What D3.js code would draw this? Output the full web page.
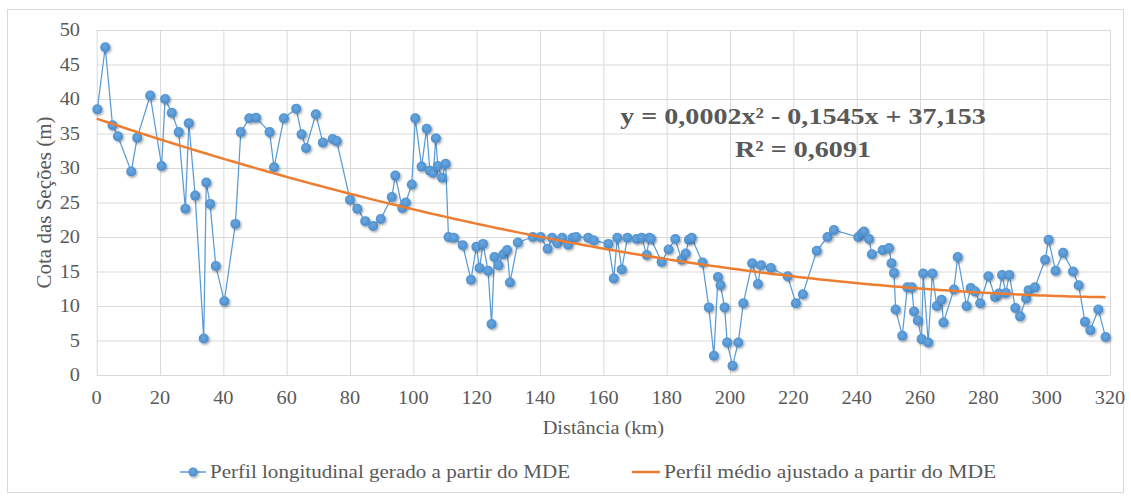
<!DOCTYPE html>
<html lang="pt">
<head>
<meta charset="utf-8">
<script src="https://cdn.jsdelivr.net/npm/d3@7"></script>
<style>
  html, body { margin: 0; padding: 0; background: #ffffff; }
  svg { display: block; }
</style>
</head>
<body>
<svg id="chart" width="1131" height="500"></svg>
<script>
// Longitudinal profile: distance along the river (km) and section elevation (m)
const distances = [
  0.2, 2.7, 5.0, 6.7, 10.9, 12.8, 16.9, 20.5, 21.6, 23.7,
  25.9, 28.0, 29.1, 31.1, 33.8, 34.6, 35.8, 37.6, 40.3, 43.8,
  45.5, 48.2, 50.3, 54.6, 56.0, 59.1, 63.0, 64.7, 66.1, 69.2,
  71.4, 74.5, 75.8, 80.0, 82.3, 84.8, 87.3, 89.7, 93.2, 94.3,
  96.5, 97.6, 99.5, 100.6, 102.6, 104.2, 105.2, 106.3, 107.1, 107.7,
  109.1, 110.2, 111.1, 112.8, 115.6, 118.2, 119.9, 120.9, 122.0, 123.6,
  124.7, 125.6, 126.9, 128.4, 129.6, 130.5, 133.0, 137.7, 140.2, 142.4,
  143.8, 145.5, 147.0, 148.9, 150.3, 151.4, 155.2, 157.0, 161.6, 163.3,
  164.4, 165.8, 167.6, 170.5, 172.1, 173.7, 174.5, 175.0, 178.4, 180.6,
  182.7, 184.7, 186.0, 187.0, 187.9, 191.3, 193.3, 194.9, 196.2, 197.0,
  198.3, 199.1, 200.8, 202.6, 204.2, 207.0, 208.8, 209.8, 212.9, 218.2,
  220.8, 223.0, 227.4, 230.8, 232.8, 240.5, 241.6, 242.3, 243.9, 244.8,
  248.2, 250.2, 251.0, 251.8, 252.3, 254.4, 256.0, 257.4, 258.1, 259.3,
  260.5, 261.0, 262.6, 263.9, 265.3, 266.8, 267.4, 270.7, 271.9, 274.7,
  276.0, 277.4, 279.0, 281.6, 283.7, 284.9, 285.9, 287.1, 288.2, 290.1,
  291.6, 293.5, 294.3, 296.3, 299.5, 300.6, 302.8, 305.2, 308.3, 310.1,
  312.1, 313.8, 316.3, 318.6
];
const elevations = [
  38.5, 47.5, 36.2, 34.6, 29.5, 34.4, 40.5, 30.3, 40.0, 38.0,
  35.2, 24.1, 36.5, 26.0, 5.3, 27.9, 24.8, 15.8, 10.7, 21.9,
  35.2, 37.2, 37.3, 35.2, 30.1, 37.2, 38.6, 34.9, 32.9, 37.8,
  33.7, 34.2, 33.9, 25.4, 24.1, 22.3, 21.6, 22.6, 25.8, 28.9,
  24.2, 25.0, 27.6, 37.2, 30.2, 35.7, 29.6, 29.3, 34.3, 30.3,
  28.6, 30.6, 20.0, 19.9, 18.8, 13.8, 18.6, 15.5, 19.0, 15.1,
  7.4, 17.1, 15.9, 17.5, 18.1, 13.4, 19.2, 20.0, 20.0, 18.3,
  19.9, 19.1, 19.9, 18.9, 19.9, 20.0, 19.9, 19.5, 19.0, 14.0,
  19.9, 15.3, 19.9, 19.7, 19.9, 17.4, 19.9, 19.75, 16.4, 18.2,
  19.7, 16.7, 17.6, 19.6, 19.9, 16.3, 9.8, 2.8, 14.2, 13.0,
  9.8, 4.7, 1.35, 4.7, 10.4, 16.2, 13.2, 15.9, 15.5, 14.3,
  10.4, 11.7, 18.0, 20.0, 21.0, 20.0, 20.5, 20.8, 19.7, 17.5,
  18.1, 18.4, 16.2, 14.8, 9.5, 5.7, 12.7, 12.7, 9.2, 7.9,
  5.2, 14.7, 4.7, 14.7, 10.0, 10.9, 7.6, 12.4, 17.1, 10.0,
  12.6, 12.1, 10.4, 14.3, 11.3, 11.8, 14.5, 11.9, 14.5, 9.7,
  8.5, 11.1, 12.3, 12.7, 16.7, 19.6, 15.1, 17.7, 15.0, 13.0,
  7.7, 6.5, 9.5, 5.5
];

// Quadratic trend (a·x² + b·x + c); the label rounds the x² term to four decimals
const trendCoefficients = [0.00023, -0.1545, 37.153];
const trendLabels = ["y = 0,0002x² - 0,1545x + 37,153", "R² = 0,6091"];

const xTicks = d3.range(0, 321, 20);
const yTicks = d3.range(0, 51, 5);

const seriesNames = [
  "Perfil longitudinal gerado a partir do MDE",
  "Perfil médio ajustado a partir do MDE"
];
const axisTitles = { x: "Distância (km)", y: "Cota das Seções (m)" };

// ---- layout ----
const svg = d3.select("#chart");
const plot = { left: 96.7, right: 1110, top: 30, bottom: 375 };
const serif = "'Liberation Serif', 'Times New Roman', serif";
const textColor = "#595959";
const blue = "#5B9BD5";
const orange = "#ED7D31";
const gridColor = "#d9d9d9";

const x = d3.scaleLinear().domain([0, 320]).range([plot.left, plot.right]);
const y = d3.scaleLinear().domain([0, 50]).range([plot.bottom, plot.top]);

// marker shading and drop shadow
const defs = svg.append("defs");
const grad = defs.append("radialGradient").attr("id", "dotGrad")
  .attr("cx", "45%").attr("cy", "40%").attr("r", "60%");
grad.append("stop").attr("offset", "0%").attr("stop-color", "#68a8e0");
grad.append("stop").attr("offset", "100%").attr("stop-color", "#4a8bcb");
const shadow = defs.append("filter").attr("id", "dotShadow")
  .attr("x", "-50%").attr("y", "-50%").attr("width", "200%").attr("height", "200%");
shadow.append("feDropShadow").attr("dx", 1.2).attr("dy", 1.4)
  .attr("stdDeviation", 1).attr("flood-color", "#000").attr("flood-opacity", 0.35);

// chart frame
svg.append("rect")
  .attr("x", 7.5).attr("y", 9.5).attr("width", 1116).attr("height", 483)
  .attr("fill", "#fff").attr("stroke", gridColor).attr("stroke-width", 1);

// horizontally widened serif text
function stretchedText(sel, px, py, anchor, size, stretch = 1.13) {
  return sel.append("text")
    .attr("transform", `translate(${px},${py}) scale(${stretch},1)`)
    .attr("text-anchor", anchor)
    .attr("font-family", serif)
    .attr("font-size", size)
    .attr("fill", textColor);
}

// gridlines via axes
svg.append("g")
  .attr("transform", `translate(0,${plot.bottom})`)
  .call(d3.axisBottom(x).tickValues(xTicks).tickSize(-(plot.bottom - plot.top)).tickFormat(""))
  .call(g => g.select(".domain").remove())
  .call(g => g.selectAll("line").attr("stroke", gridColor).attr("stroke-width", 1));
svg.append("g")
  .attr("transform", `translate(${plot.left},0)`)
  .call(d3.axisLeft(y).tickValues(yTicks).tickSize(-(plot.right - plot.left)).tickFormat(""))
  .call(g => g.select(".domain").remove())
  .call(g => g.selectAll("line").attr("stroke", gridColor).attr("stroke-width", 1));

// tick labels
const xLab = svg.append("g");
xTicks.forEach(t => stretchedText(xLab, x(t), 404, "middle", 18).text(t));
const yLab = svg.append("g");
yTicks.forEach(t => stretchedText(yLab, 80, y(t) + 6, "end", 18).text(t));

// axis titles
stretchedText(svg, (plot.left + plot.right) / 2, 434, "middle", 18).text(axisTitles.x);
svg.append("text")
  .attr("transform", `translate(51,${(plot.top + plot.bottom) / 2}) rotate(-90)`)
  .attr("text-anchor", "middle")
  .attr("font-family", serif).attr("font-size", 21).attr("fill", textColor)
  .text(axisTitles.y);

// profile series
const points = distances.map((d, i) => ({ d, h: elevations[i] }));
svg.append("path")
  .datum(points)
  .attr("fill", "none").attr("stroke", blue).attr("stroke-width", 1.25)
  .attr("d", d3.line().x(p => x(p.d)).y(p => y(p.h)));
svg.append("g").selectAll("circle")
  .data(points).join("circle")
  .attr("cx", p => x(p.d)).attr("cy", p => y(p.h)).attr("r", 5)
  .attr("fill", "url(#dotGrad)").attr("filter", "url(#dotShadow)");

// trend curve
const [a, b, c] = trendCoefficients;
const xMax = d3.max(distances);
const trendPts = d3.range(0, 201).map(i => {
  const xv = xMax * i / 200;
  return [xv, a * xv * xv + b * xv + c];
});
svg.append("path")
  .datum(trendPts)
  .attr("fill", "none").attr("stroke", orange).attr("stroke-width", 2.5)
  .attr("d", d3.line().x(p => x(p[0])).y(p => y(p[1])));

// trend equation
trendLabels.forEach((t, i) => {
  stretchedText(svg, 803, 124 + i * 33, "middle", 24, 1.17).attr("font-weight", "bold").text(t);
});

// legend
const legend = svg.append("g");
legend.append("line").attr("x1", 180).attr("x2", 206).attr("y1", 472).attr("y2", 472)
  .attr("stroke", blue).attr("stroke-width", 1.5);
legend.append("circle").attr("cx", 193).attr("cy", 472).attr("r", 4.5)
  .attr("fill", "url(#dotGrad)").attr("filter", "url(#dotShadow)");
stretchedText(legend, 210, 478, "start", 18, 1.17).text(seriesNames[0]);
legend.append("line").attr("x1", 632).attr("x2", 660).attr("y1", 472).attr("y2", 472)
  .attr("stroke", orange).attr("stroke-width", 2.5);
stretchedText(legend, 664, 478, "start", 18, 1.2).text(seriesNames[1]);
</script>
</body>
</html>
